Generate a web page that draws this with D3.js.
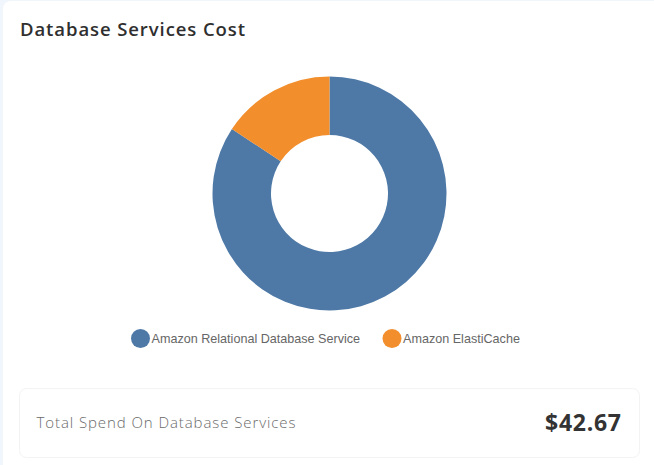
<!DOCTYPE html>
<html>
<head>
<meta charset="utf-8">
<script src="https://cdn.jsdelivr.net/npm/d3@7"></script>
<style>
  html, body { margin: 0; padding: 0; background: #f1f6fc; }
  svg { display: block; }
</style>
</head>
<body>
<svg id="chart" width="654" height="465"></svg>
<script>
const title = "Database Services Cost";
const categories = ["Amazon Relational Database Service", "Amazon ElastiCache"];
const values = [35.97, 6.70];
const colors = ["#4e79a7", "#f28e2b"];
const totalLabel = "Total Spend On Database Services";
const totalValue = 42.67;

const svg = d3.select("#chart");

// panel
svg.append("rect")
  .attr("x", 3).attr("y", 1).attr("width", 670).attr("height", 480)
  .attr("rx", 8).attr("fill", "#ffffff");

svg.append("text")
  .attr("x", 20).attr("y", 36)
  .attr("font-family", "'Open Sans', sans-serif")
  .attr("font-size", 18.5).attr("font-weight", 600)
  .attr("fill", "#2f2f2f")
  .attr("textLength", 225).attr("lengthAdjust", "spacing")
  .text(title);

// donut
const cx = 329.5, cy = 193.5, outerR = 117, innerR = 58.5;
const pie = d3.pie().sort(null).value(d => d.value);
const arc = d3.arc().innerRadius(innerR).outerRadius(outerR);
const data = categories.map((c, i) => ({ name: c, value: values[i], color: colors[i] }));

svg.append("g")
  .attr("transform", `translate(${cx},${cy})`)
  .selectAll("path")
  .data(pie(data))
  .join("path")
  .attr("d", arc)
  .attr("fill", d => d.data.color);

// legend
const legend = svg.append("g");
const legendX = [140.5, 392];
data.forEach((d, i) => {
  const g = legend.append("g").attr("transform", `translate(${legendX[i]},338.5)`);
  g.append("circle").attr("r", 9.5).attr("fill", d.color);
  g.append("text")
    .attr("x", 11).attr("y", 4.5)
    .attr("font-family", "'Liberation Sans', Arial, sans-serif")
    .attr("font-size", 12.6).attr("fill", "#666")
    .text(d.name);
});

// total card
svg.append("rect")
  .attr("x", 19.5).attr("y", 388.5).attr("width", 620).attr("height", 69)
  .attr("rx", 7).attr("fill", "#fff")
  .attr("stroke", "#f3f3f3").attr("stroke-width", 1);

svg.append("text")
  .attr("x", 36.5).attr("y", 428)
  .attr("font-family", "'Open Sans', sans-serif")
  .attr("font-size", 15).attr("font-weight", 300)
  .attr("fill", "#6a6a6a")
  .attr("textLength", 259).attr("lengthAdjust", "spacing")
  .text(totalLabel);

svg.append("text")
  .attr("x", 621).attr("y", 430.5)
  .attr("text-anchor", "end")
  .attr("font-family", "'Open Sans', sans-serif")
  .attr("font-size", 23).attr("font-weight", 700)
  .attr("fill", "#333")
  .attr("textLength", 76).attr("lengthAdjust", "spacing")
  .text(d3.format("$.2f")(totalValue));
</script>
</body>
</html>
